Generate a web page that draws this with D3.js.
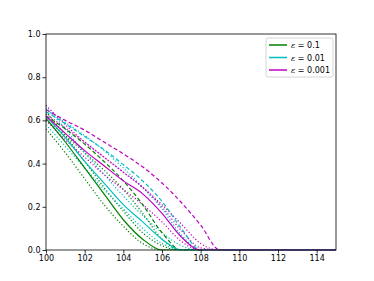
<!DOCTYPE html>
<html><head><meta charset="utf-8">
<script src="https://cdn.jsdelivr.net/npm/d3@7"></script>
<style>body{margin:0;background:#fff}svg{display:block}text{font-family:"DejaVu Sans",sans-serif}</style>
</head><body><svg id="c" width="374" height="281"></svg>
<script>
const xValues = [100,101,102,103,104,105,106,107,108,109,110,115];
const xTicks = [100,102,104,106,108,110,112,114];
const yTicks = [0.0,0.2,0.4,0.6,0.8,1.0];
const legendLabels = ["0.1","0.01","0.001"];
const colors = ["#008000","#00bfbf","#bf00bf"];
// eps = 0.1
const g_solid  = [0.61,0.50,0.38,0.26,0.14,0.05,0.00,0,0,0,0,0];
const g_dash   = [0.62,0.56,0.49,0.41,0.32,0.21,0.08,0,0,0,0,0];
const g_dotLo  = [0.56,0.45,0.33,0.21,0.11,0.03,0.00,0,0,0,0,0];
const g_dotHi  = [0.64,0.53,0.41,0.29,0.18,0.08,0.02,0,0,0,0,0];
const g_dotDLo = [0.60,0.53,0.45,0.37,0.28,0.17,0.05,0,0,0,0,0];
// eps = 0.01
const c_solid  = [0.62,0.52,0.41,0.31,0.21,0.13,0.05,0.00,0,0,0,0];
const c_dash   = [0.64,0.585,0.525,0.465,0.395,0.32,0.225,0.10,0.00,0,0,0];
const c_dotLo  = [0.58,0.48,0.38,0.28,0.19,0.10,0.03,0.00,0,0,0,0];
const c_dotHi  = [0.66,0.56,0.45,0.35,0.25,0.16,0.08,0.02,0,0,0,0];
const c_dotDHi = [0.65,0.59,0.53,0.46,0.38,0.29,0.19,0.07,0.00,0,0,0];
// eps = 0.001
const m_solid  = [0.62,0.54,0.46,0.39,0.32,0.26,0.17,0.06,0.00,0,0,0];
const m_dash   = [0.65,0.60,0.555,0.50,0.445,0.385,0.31,0.22,0.115,0.00,0,0];
const m_dotLo  = [0.60,0.51,0.43,0.35,0.28,0.21,0.13,0.04,0.00,0,0,0];
const m_dotHi  = [0.67,0.58,0.50,0.43,0.36,0.29,0.20,0.09,0.01,0,0,0];
const m_dotDLo = [0.63,0.565,0.50,0.43,0.36,0.29,0.21,0.12,0.03,0,0,0];

const series = [
  {v:g_dotLo,c:0,s:"dot"},{v:g_dotHi,c:0,s:"dot"},{v:g_dotDLo,c:0,s:"dot"},
  {v:c_dotLo,c:1,s:"dot"},{v:c_dotHi,c:1,s:"dot"},{v:c_dotDHi,c:1,s:"dot"},
  {v:m_dotLo,c:2,s:"dot"},{v:m_dotHi,c:2,s:"dot"},{v:m_dotDLo,c:2,s:"dot"},
  {v:g_dash,c:0,s:"dash"},{v:c_dash,c:1,s:"dash"},{v:m_dash,c:2,s:"dash"},
  {v:g_solid,c:0,s:"solid"},{v:c_solid,c:1,s:"solid"},{v:m_solid,c:2,s:"solid"}
];

const L=46,R=336,T=34,B=250;
const x=d3.scaleLinear().domain([100,115]).range([L,R]);
const y=d3.scaleLinear().domain([0,1]).range([B,T]);
const svg=d3.select("#c");
svg.append("clipPath").attr("id","cp").append("rect").attr("x",L).attr("y",T).attr("width",R-L).attr("height",B-T+0.6);
const line=d3.line().x((d,i)=>x(xValues[i])).y(d=>y(d)).curve(d3.curveMonotoneX);
const dash={solid:null,dash:"4,2.5",dot:"1.2,2"};
svg.append("g").selectAll("path").data(series).join("path")
  .attr("d",d=>line(d.v)).attr("fill","none")
  .attr("stroke",d=>colors[d.c]).attr("stroke-width",1.2)
  .attr("stroke-dasharray",d=>dash[d.s]).attr("clip-path","url(#cp)");

const xa=svg.append("g").attr("transform",`translate(0,${B})`).call(d3.axisBottom(x).tickValues(xTicks).tickSize(3.5).tickPadding(2));
const ya=svg.append("g").attr("transform",`translate(${L},0)`).call(d3.axisLeft(y).tickValues(yTicks).tickFormat(d3.format(".1f")).tickSize(3.5).tickPadding(2));
[xa,ya].forEach(a=>{a.select(".domain").remove();a.selectAll("text").attr("font-size",8).attr("fill","#000").attr("font-family","DejaVu Sans");a.selectAll("line").attr("stroke","#000").attr("stroke-width",0.8);});
svg.append("rect").attr("x",L).attr("y",T).attr("width",R-L).attr("height",B-T).attr("fill","none").attr("stroke","#000").attr("stroke-width",0.8);

const lg=svg.append("g");
lg.append("rect").attr("x",266).attr("y",38).attr("width",67).attr("height",39).attr("rx",2).attr("fill","#fff").attr("fill-opacity",0.8).attr("stroke","#ccc").attr("stroke-width",0.8);
legendLabels.forEach((lab,i)=>{
  const yy=45+i*12.5;
  lg.append("line").attr("x1",269).attr("x2",287).attr("y1",yy).attr("y2",yy).attr("stroke",colors[i]).attr("stroke-width",1.5);
  const t=lg.append("text").attr("x",291).attr("y",yy+3).attr("font-size",8);
  t.append("tspan").attr("font-style","italic").attr("font-family","DejaVu Serif").text("ε");
  t.append("tspan").text(" = "+lab);
});
</script></body></html>
